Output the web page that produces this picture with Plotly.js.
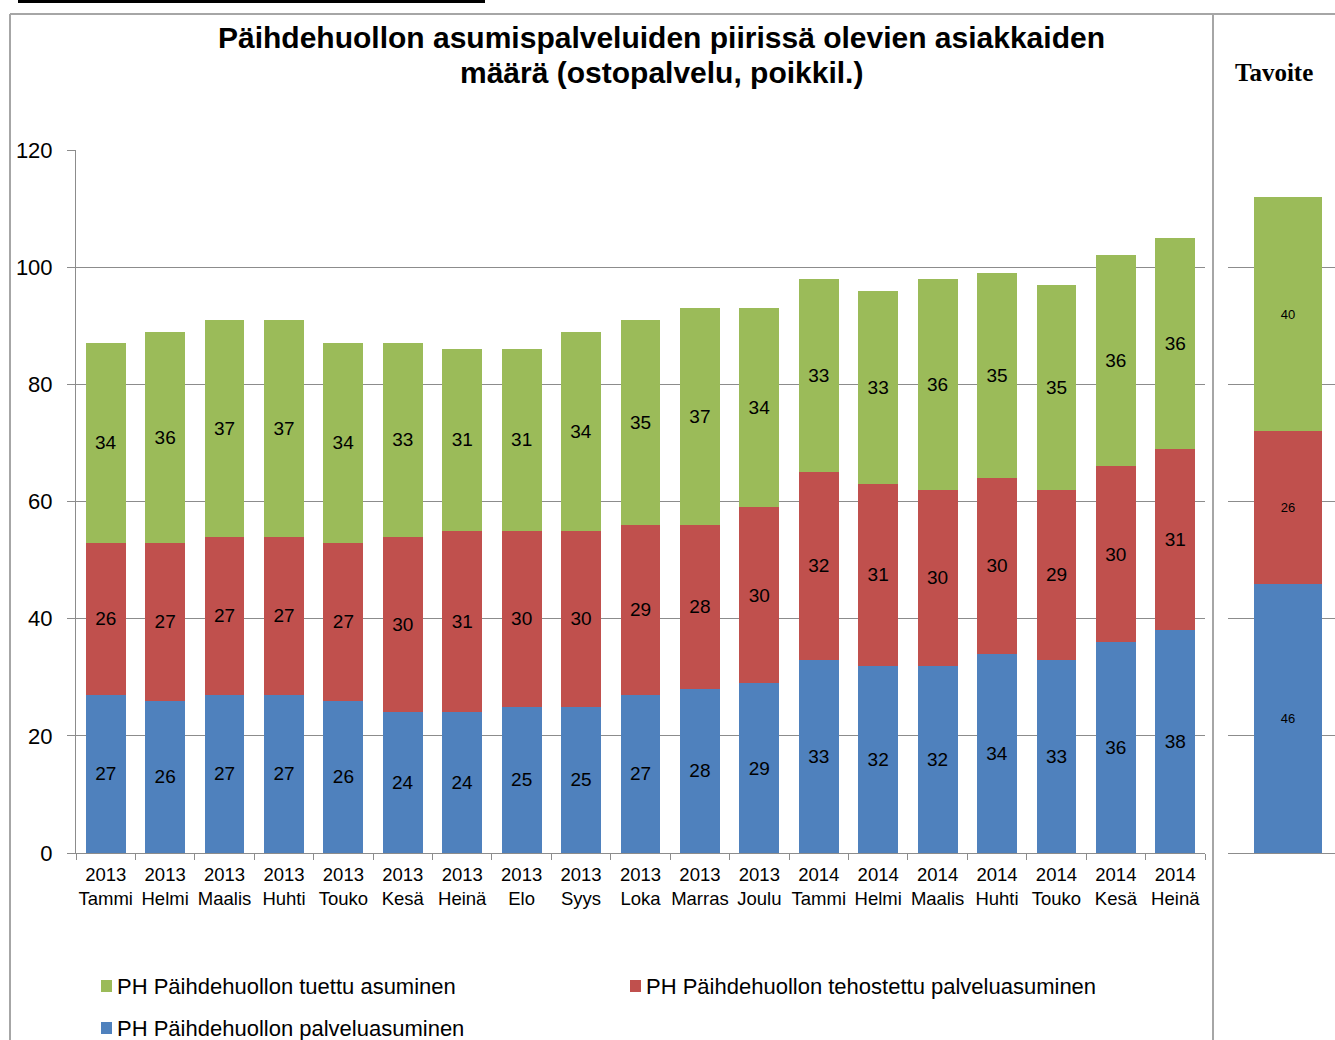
<!DOCTYPE html>
<html>
<head>
<meta charset="utf-8">
<script src="https://cdn.plot.ly/plotly-3.0.1.min.js"></script>
<style>html,body{margin:0;padding:0;background:#fff;}#chart{width:1335px;height:1040px;}</style>
</head>
<body>
<div id="chart"></div>
<script>
const years = ["2013","2013","2013","2013","2013","2013","2013","2013","2013","2013","2013","2013","2014","2014","2014","2014","2014","2014","2014"];
const months = ["Tammi","Helmi","Maalis","Huhti","Touko","Kesä","Heinä","Elo","Syys","Loka","Marras","Joulu","Tammi","Helmi","Maalis","Huhti","Touko","Kesä","Heinä"];
const palveluasuminen = [27,26,27,27,26,24,24,25,25,27,28,29,33,32,32,34,33,36,38];
const tehostettu = [26,27,27,27,27,30,31,30,30,29,28,30,32,31,30,30,29,30,31];
const tuettu = [34,36,37,37,34,33,31,31,34,35,37,34,33,33,36,35,35,36,36];
const targetLabel = ["Tavoite"];
const targetPalvelu = [46];
const targetTehostettu = [26];
const targetTuettu = [40];
const seriesNames = ["PH Päihdehuollon tuettu asuminen","PH Päihdehuollon tehostettu palveluasuminen","PH Päihdehuollon palveluasuminen"];
const titleLines = ["Päihdehuollon asumispalveluiden piirissä olevien asiakkaiden","määrä (ostopalvelu, poikkil.)"];

const W = 1335, H = 1040;
const px = x => x / W, py = y => 1 - y / H;
const cats = years.map((y, i) => y + "<br>" + months[i]);
const GREEN = "#9BBB59", RED = "#C0504D", BLUE = "#4F81BD", GRID = "#8C8C8C";
const F = "Liberation Sans, Arial, sans-serif";

function mainBar(vals, color, name) {
  return {type: "bar", x: cats, y: vals, name: name, marker: {color: color, line: {width: 0}},
    text: vals.map(String), textposition: "inside", insidetextanchor: "middle", textangle: 0,
    constraintext: "none", textfont: {family: F, size: 19, color: "#000"}, cliponaxis: false,
    xaxis: "x", yaxis: "y", showlegend: false, hoverinfo: "skip"};
}
function targetBar(vals, color, name) {
  return {type: "bar", x: [0], y: vals, name: name, width: 0.636, marker: {color: color, line: {width: 0}},
    text: vals.map(String), textposition: "inside", insidetextanchor: "middle", textangle: 0,
    constraintext: "none", textfont: {family: F, size: 13, color: "#000"},
    xaxis: "x2", yaxis: "y2", showlegend: false, hoverinfo: "skip"};
}

const data = [
  mainBar(palveluasuminen, BLUE, seriesNames[2]),
  mainBar(tehostettu, RED, seriesNames[1]),
  mainBar(tuettu, GREEN, seriesNames[0]),
  targetBar(targetPalvelu, BLUE, seriesNames[2]),
  targetBar(targetTehostettu, RED, seriesNames[1]),
  targetBar(targetTuettu, GREEN, seriesNames[0])
];

const ydom = [1 - 853 / H, 1 - 150 / H];
const legendItems = [
  {name: seriesNames[0], color: GREEN, x: 101, y: 986},
  {name: seriesNames[1], color: RED, x: 630, y: 986},
  {name: seriesNames[2], color: BLUE, x: 101, y: 1028}
];
const shapes = [
  {type: "line", xref: "paper", yref: "paper", x0: px(18), x1: px(485), y0: py(1.5), y1: py(1.5), line: {color: "#000", width: 3}},
  {type: "line", xref: "paper", yref: "paper", x0: px(10), x1: 1, y0: py(14), y1: py(14), line: {color: "#A6A6A6", width: 2}},
  {type: "line", xref: "paper", yref: "paper", x0: px(10), x1: px(10), y0: py(14), y1: 0, line: {color: "#A6A6A6", width: 2}},
  {type: "line", xref: "paper", yref: "paper", x0: px(1213), x1: px(1213), y0: py(14), y1: 0, line: {color: "#A6A6A6", width: 2}}
];
const annotations = [
  {text: "<b>" + titleLines[0] + "</b>", xref: "paper", yref: "paper", x: px(661), y: py(38),
   xanchor: "center", yanchor: "middle", showarrow: false, font: {family: F, size: 30, color: "#000"}},
  {text: "<b>" + titleLines[1] + "</b>", xref: "paper", yref: "paper", x: px(661), y: py(73),
   xanchor: "center", yanchor: "middle", showarrow: false, font: {family: F, size: 30, color: "#000"}},
  {text: "<b>Tavoite</b>", xref: "paper", yref: "paper", x: px(1274), y: py(73), xanchor: "center", yanchor: "middle",
   showarrow: false, font: {family: "Liberation Serif, DejaVu Serif, serif", size: 25, color: "#000"}}
];
legendItems.forEach(it => {
  shapes.push({type: "rect", xref: "paper", yref: "paper", x0: px(it.x), x1: px(it.x + 11), y0: py(it.y + 6), y1: py(it.y - 6),
    fillcolor: it.color, line: {width: 0}});
  annotations.push({text: it.name, xref: "paper", yref: "paper", x: px(it.x + 14), y: py(it.y), xanchor: "left", yanchor: "middle",
    showarrow: false, font: {family: F, size: 22, color: "#000"}});
});

const layout = {
  width: W, height: H, autosize: false,
  margin: {l: 0, r: 0, t: 0, b: 0, pad: 0},
  paper_bgcolor: "#fff", plot_bgcolor: "rgba(0,0,0,0)",
  barmode: "stack", bargap: 0.33,
  font: {family: F, color: "#000"},
  xaxis: {domain: [px(76), px(1205)], type: "category", range: [-0.5, 18.5],
    showline: true, linecolor: GRID, linewidth: 1, ticks: "outside", tickson: "boundaries",
    ticklen: 6, tickcolor: GRID, showgrid: false, zeroline: false, ticklabelstandoff: 5,
    tickfont: {family: F, size: 18.5, color: "#000"}, tickangle: 0, anchor: "y", fixedrange: true},
  yaxis: {domain: ydom, range: [0, 120], tickvals: [0,20,40,60,80,100,120],
    showline: true, linecolor: GRID, linewidth: 1, ticks: "outside", ticklen: 8, tickcolor: GRID,
    showgrid: true, gridcolor: GRID, gridwidth: 1, zeroline: false,
    tickfont: {family: F, size: 22, color: "#000"}, ticklabelstandoff: 10, anchor: "x", fixedrange: true},
  xaxis2: {domain: [px(1228), 1], range: [-0.56, 0.44], showticklabels: false, showgrid: false,
    zeroline: false, showline: false, ticks: "", anchor: "y2", fixedrange: true},
  yaxis2: {domain: ydom, range: [0, 120], tickvals: [0,20,40,60,80,100,120], showticklabels: false,
    showgrid: true, gridcolor: GRID, gridwidth: 1, zeroline: true, zerolinecolor: GRID, zerolinewidth: 1,
    showline: false, ticks: "", anchor: "x2", fixedrange: true},
  shapes: shapes,
  annotations: annotations,
  showlegend: false
};
Plotly.newPlot("chart", data, layout, {displayModeBar: false, staticPlot: true});
</script>
</body>
</html>
